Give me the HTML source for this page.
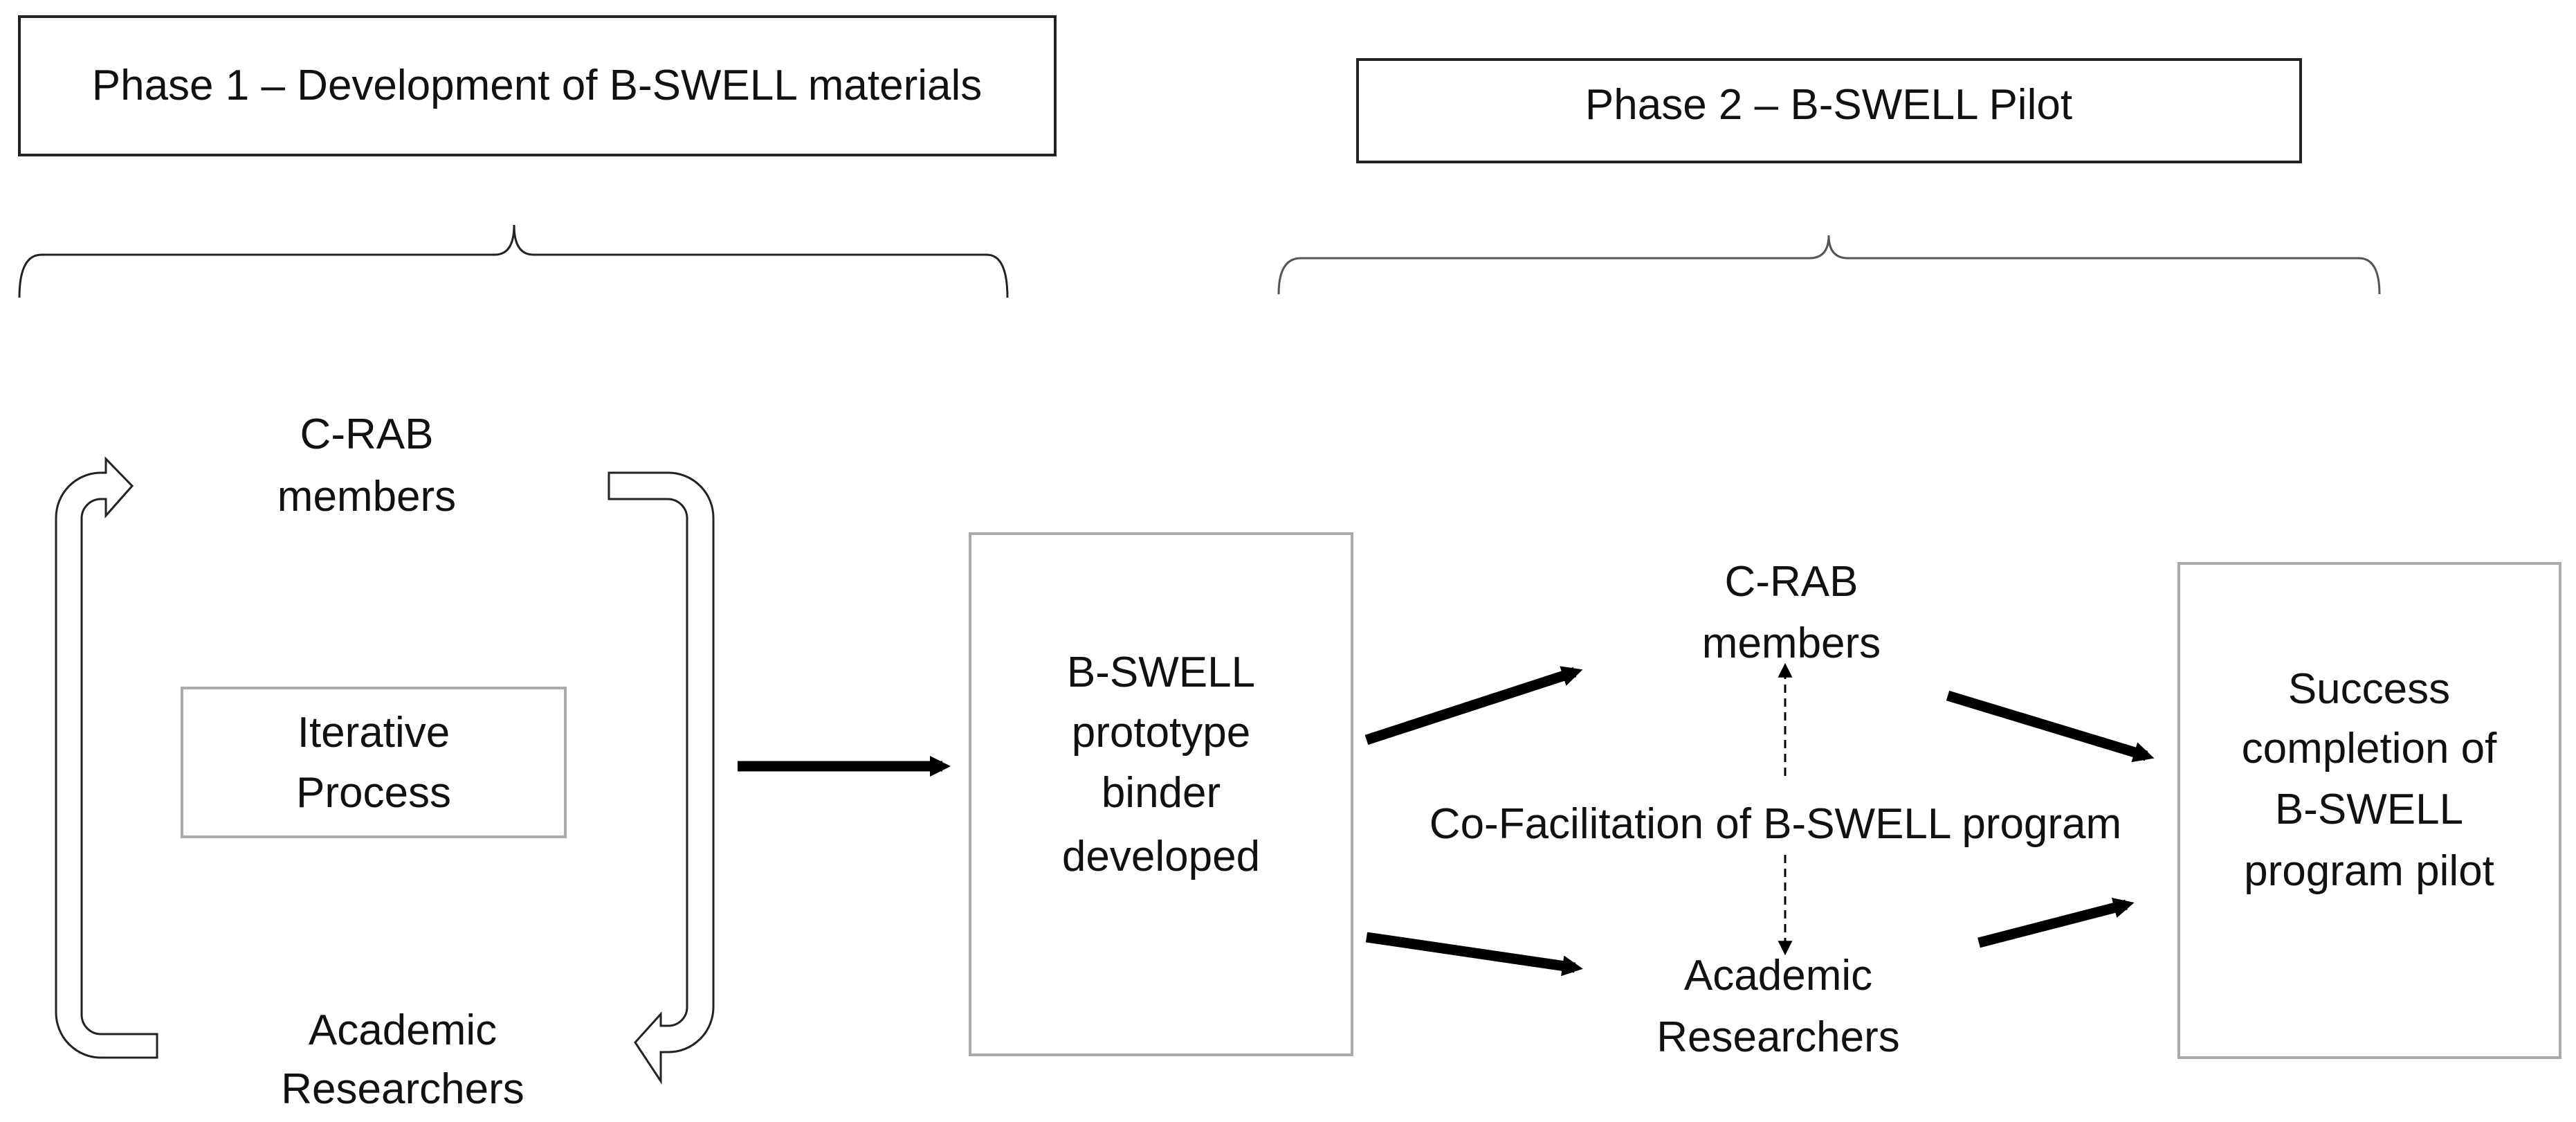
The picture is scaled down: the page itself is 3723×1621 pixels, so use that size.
<!DOCTYPE html>
<html><head><meta charset="utf-8"><style>
html,body{margin:0;padding:0;background:#fff;}
svg{display:block;}
text{font-family:"Liberation Sans",sans-serif;font-size:62px;fill:#111;text-anchor:middle;}
</style></head><body>
<svg width="3723" height="1621" viewBox="0 0 3723 1621" xmlns="http://www.w3.org/2000/svg">
<defs>
<marker id="h" viewBox="0 0 2 2" refX="1.2" refY="1" markerWidth="2" markerHeight="2" orient="auto" markerUnits="strokeWidth"><path d="M0,0 L2,1 L0,2 z" fill="#000"/></marker>
<marker id="hd" viewBox="0 0 2 2" refX="1.6" refY="1" markerWidth="7" markerHeight="8" orient="auto" markerUnits="strokeWidth"><path d="M0,0 L2,1 L0,2 z" fill="#000"/></marker>
</defs>
<rect width="3723" height="1621" fill="#fff"/>
<!-- phase boxes -->
<rect x="28" y="24" width="1497" height="200" fill="none" stroke="#222" stroke-width="4"/>
<text x="776" y="144">Phase 1 – Development of B-SWELL materials</text>
<rect x="1962" y="86" width="1363" height="148" fill="none" stroke="#222" stroke-width="4"/>
<text x="2643" y="172">Phase 2 – B-SWELL Pilot</text>
<!-- braces -->
<path d="M28,430 Q28,368 60,368 L715,368 Q743,368 743,325 Q743,368 771,368 L1426,368 Q1456,368 1456,430" fill="none" stroke="#222" stroke-width="3"/>
<path d="M1848,425 Q1848,373 1880,373 L2615,373 Q2643,373 2643,340 Q2643,373 2671,373 L3409,373 Q3439,373 3439,425" fill="none" stroke="#555" stroke-width="3"/>
<!-- iterative loop -->
<path d="M227,1528 L146,1528 A65,65 0 0 1 81,1463 L81,748 A65,65 0 0 1 146,683 L153,683 L153,663 L191,702 L153,745 L153,721 L146,721 A28,28 0 0 0 118,749 L118,1466 A28,28 0 0 0 146,1494 L227,1494 Z" fill="#fff" stroke="#222" stroke-width="3"/>
<path d="M880,683 L966,683 A65,65 0 0 1 1031,748 L1031,1455 A65,65 0 0 1 966,1520 L955,1520 L955,1562 L918,1506 L955,1465 L955,1482 L966,1482 A27,27 0 0 0 993,1455 L993,749 A28,28 0 0 0 965,721 L880,721 Z" fill="#fff" stroke="#222" stroke-width="3"/>
<text x="530" y="648">C-RAB</text>
<text x="530" y="738">members</text>
<text x="582" y="1509">Academic</text>
<text x="582" y="1594">Researchers</text>
<rect x="263" y="994" width="554" height="215" fill="none" stroke="#aaa" stroke-width="4"/>
<text x="540" y="1079">Iterative</text>
<text x="540" y="1166">Process</text>
<!-- arrow to prototype -->
<line x1="1066" y1="1107" x2="1362" y2="1107" stroke="#000" stroke-width="15" marker-end="url(#h)"/>
<rect x="1402" y="771" width="552" height="753" fill="none" stroke="#aaa" stroke-width="4"/>
<text x="1678" y="992">B-SWELL</text>
<text x="1678" y="1079">prototype</text>
<text x="1678" y="1166">binder</text>
<text x="1678" y="1258">developed</text>
<!-- diagonal arrows -->
<line x1="1975" y1="1069" x2="2276" y2="971" stroke="#000" stroke-width="15" marker-end="url(#h)"/>
<line x1="1975" y1="1354" x2="2276" y2="1398" stroke="#000" stroke-width="15" marker-end="url(#h)"/>
<line x1="2815" y1="1005" x2="3102" y2="1092" stroke="#000" stroke-width="15" marker-end="url(#h)"/>
<line x1="2860" y1="1362" x2="3073" y2="1307" stroke="#000" stroke-width="15" marker-end="url(#h)"/>
<!-- middle -->
<text x="2589" y="861">C-RAB</text>
<text x="2589" y="950">members</text>
<line x1="2580" y1="1121" x2="2580" y2="962" stroke="#000" stroke-width="3" stroke-dasharray="12,8" marker-end="url(#hd)"/>
<text x="2566" y="1211">Co-Facilitation of B-SWELL program</text>
<line x1="2580" y1="1235" x2="2580" y2="1376" stroke="#000" stroke-width="3" stroke-dasharray="12,8" marker-end="url(#hd)"/>
<text x="2570" y="1430">Academic</text>
<text x="2570" y="1519">Researchers</text>
<rect x="3149" y="814" width="551" height="714" fill="none" stroke="#aaa" stroke-width="4"/>
<text x="3424" y="1016">Success</text>
<text x="3424" y="1102">completion of</text>
<text x="3424" y="1190">B-SWELL</text>
<text x="3424" y="1279">program pilot</text>
</svg>
</body></html>
